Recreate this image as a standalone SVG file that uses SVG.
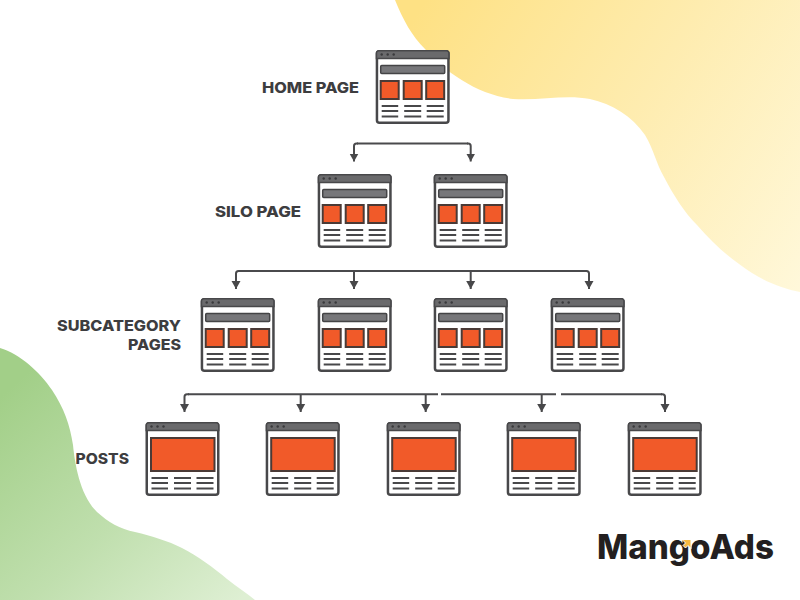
<svg xmlns="http://www.w3.org/2000/svg" width="800" height="600" viewBox="0 0 800 600">
  <style>
    .frame { fill: #fff; stroke: #48484a; stroke-width: 2.500; }
    .titlebar { fill: #6a6a6c; stroke: #48484a; stroke-width: 1.500; }
    .dot { fill: #3a3a3c; }
    .search { fill: #77777a; stroke: #444446; stroke-width: 1.500; }
    .tile { fill: #f15a29; stroke: #4a3a36; stroke-width: 2; }
    .txt { stroke: #48484a; stroke-width: 2; fill: none; }
    .wire { stroke: #4a4a4c; stroke-width: 2; fill: none; }
    .label { font-family: "Inter", "Liberation Sans", sans-serif; font-weight: 800; font-size: 14.500px; fill: #3d3d3f; }
    .brand { font-family: "Inter", "Liberation Sans", sans-serif; font-weight: 800; font-size: 34px; fill: #231f20; }
  </style>
  <defs>
    <linearGradient id="sun" gradientUnits="userSpaceOnUse" x1="400" y1="40" x2="800" y2="290">
      <stop offset="0" stop-color="#fee184"/>
      <stop offset="0.5" stop-color="#feecaf"/>
      <stop offset="1" stop-color="#fff8da"/>
    </linearGradient>
    <linearGradient id="leaf" gradientUnits="userSpaceOnUse" x1="30" y1="370" x2="240" y2="600">
      <stop offset="0" stop-color="#a2cf88"/>
      <stop offset="0.55" stop-color="#c0dfae"/>
      <stop offset="1" stop-color="#deefd3"/>
    </linearGradient>
    <marker id="head" markerUnits="userSpaceOnUse" markerWidth="9" markerHeight="11" refX="8" refY="5.500" orient="auto" viewBox="0 0 9 11">
      <path d="M0 1L8 5.500L0 10Z" fill="#48484a"/>
    </marker>
    <g id="chrome">
      <rect class="frame" x="1.250" y="1.250" width="71.500" height="71.500" rx="2.500"/>
      <path class="titlebar" d="M3 .75H71a2.250 2.250 0 0 1 2.250 2.250V8.500H.75V3a2.250 2.250 0 0 1 2.250-2.250Z"/>
      <circle class="dot" cx="6" cy="4.500" r="1.200"/>
      <circle class="dot" cx="12" cy="4.500" r="1.200"/>
      <circle class="dot" cx="18" cy="4.500" r="1.200"/>
      <path class="txt" d="M6 56H22.500M28.500 56H45.500M51 56H68M6 61H22.500M28.500 61H45.500M51 61H68M6 66.500H22.500M28.500 66.500H45.500M51 66.500H68"/>
    </g>
    <g id="page">
      <use href="#chrome"/>
      <rect class="search" x="5" y="15.500" width="64" height="8" rx="1"/>
      <rect class="tile" x="5" y="31" width="18" height="18"/>
      <rect class="tile" x="28" y="31" width="18" height="18"/>
      <rect class="tile" x="50.500" y="31" width="18" height="18"/>
    </g>
    <g id="post">
      <use href="#chrome"/>
      <rect class="tile" x="5.500" y="16" width="63.500" height="33"/>
    </g>
  </defs>

  <!-- background blobs -->
  <path fill="url(#sun)" d="M395 0C403 20 412 36 425 49C445 72 478 95 513 99C540 101 565 94 590 99C612 104 632 116 645 135C654 150 656 163 664 177C674 196 684 212 697 225C715 246 732 260 752 273C768 283 785 289 800 292V0Z"/>
  <path fill="url(#leaf)" d="M0 348C20 354 40 372 52 390C64 408 70 425 73 445C75 465 80 495 97 512C108 522 120 529 135 532C152 536 168 541 182 548C198 556 214 568 227 579C237 587 247 593 255 600H0Z"/>

  <!-- connectors -->
  <g id="connectors">
    <path class="wire" d="M357 143.500H468"/>
    <path class="wire" marker-end="url(#head)" d="M358 143.500H356.500Q354 143.500 354 146V161.500"/>
    <path class="wire" marker-end="url(#head)" d="M467 143.500H468.200Q470.700 143.500 470.700 146V161.500"/>
    <path class="wire" d="M239 271H586"/>
    <path class="wire" marker-end="url(#head)" d="M240 271H238.500Q236 271 236 273.500V289"/>
    <path class="wire" marker-end="url(#head)" d="M354 271V289"/>
    <path class="wire" marker-end="url(#head)" d="M470.700 271V289"/>
    <path class="wire" marker-end="url(#head)" d="M585 271H586.500Q589 271 589 273.500V289"/>
    <path class="wire" d="M188 394.300H438M441 394.300H556M561 394.300H662"/>
    <path class="wire" marker-end="url(#head)" d="M189 394.300H187Q184.500 394.300 184.500 396.800V412"/>
    <path class="wire" marker-end="url(#head)" d="M300.700 394.300V412"/>
    <path class="wire" marker-end="url(#head)" d="M425.700 394.300V412"/>
    <path class="wire" marker-end="url(#head)" d="M541.700 394.300V412"/>
    <path class="wire" marker-end="url(#head)" d="M661 394.300H662.500Q665 394.300 665 396.800V412"/>
  </g>

  <!-- site tree nodes -->
  <g id="home"><use href="#page" x="375.700" y="50"/></g>
  <g id="silo-1"><use href="#page" x="317.700" y="174"/></g>
  <g id="silo-2"><use href="#page" x="433.700" y="174"/></g>
  <g id="sub-1"><use href="#page" x="200.700" y="298"/></g>
  <g id="sub-2"><use href="#page" x="317.700" y="298"/></g>
  <g id="sub-3"><use href="#page" x="433.700" y="298"/></g>
  <g id="sub-4"><use href="#page" x="550.700" y="298"/></g>
  <g id="post-1"><use href="#post" x="145.500" y="422"/></g>
  <g id="post-2"><use href="#post" x="265.700" y="422"/></g>
  <g id="post-3"><use href="#post" x="386.700" y="422"/></g>
  <g id="post-4"><use href="#post" x="506.700" y="422"/></g>
  <g id="post-5"><use href="#post" x="627.700" y="422"/></g>

  <!-- tier labels -->
  <g id="labels">
    <text class="label" x="262" y="92.500" textLength="97" lengthAdjust="spacingAndGlyphs">HOME PAGE</text>
    <text class="label" x="215" y="216.500" textLength="86" lengthAdjust="spacingAndGlyphs">SILO PAGE</text>
    <text class="label" x="57" y="331" textLength="124" lengthAdjust="spacingAndGlyphs">SUBCATEGORY</text>
    <text class="label" x="128" y="349.500" textLength="53" lengthAdjust="spacingAndGlyphs">PAGES</text>
    <text class="label" x="75.500" y="464" textLength="53.500" lengthAdjust="spacingAndGlyphs">POSTS</text>
  </g>

  <!-- wordmark -->
  <g id="logo">
    <text class="brand" x="597" y="559" textLength="177" lengthAdjust="spacingAndGlyphs">MangoAds</text>
    <path fill="#f5b942" stroke="#fff" stroke-width="1" d="M682 539.500H691V548.500L688 545.500L685.500 548L683 545.500L685.500 543Z"/>
  </g>
</svg>
